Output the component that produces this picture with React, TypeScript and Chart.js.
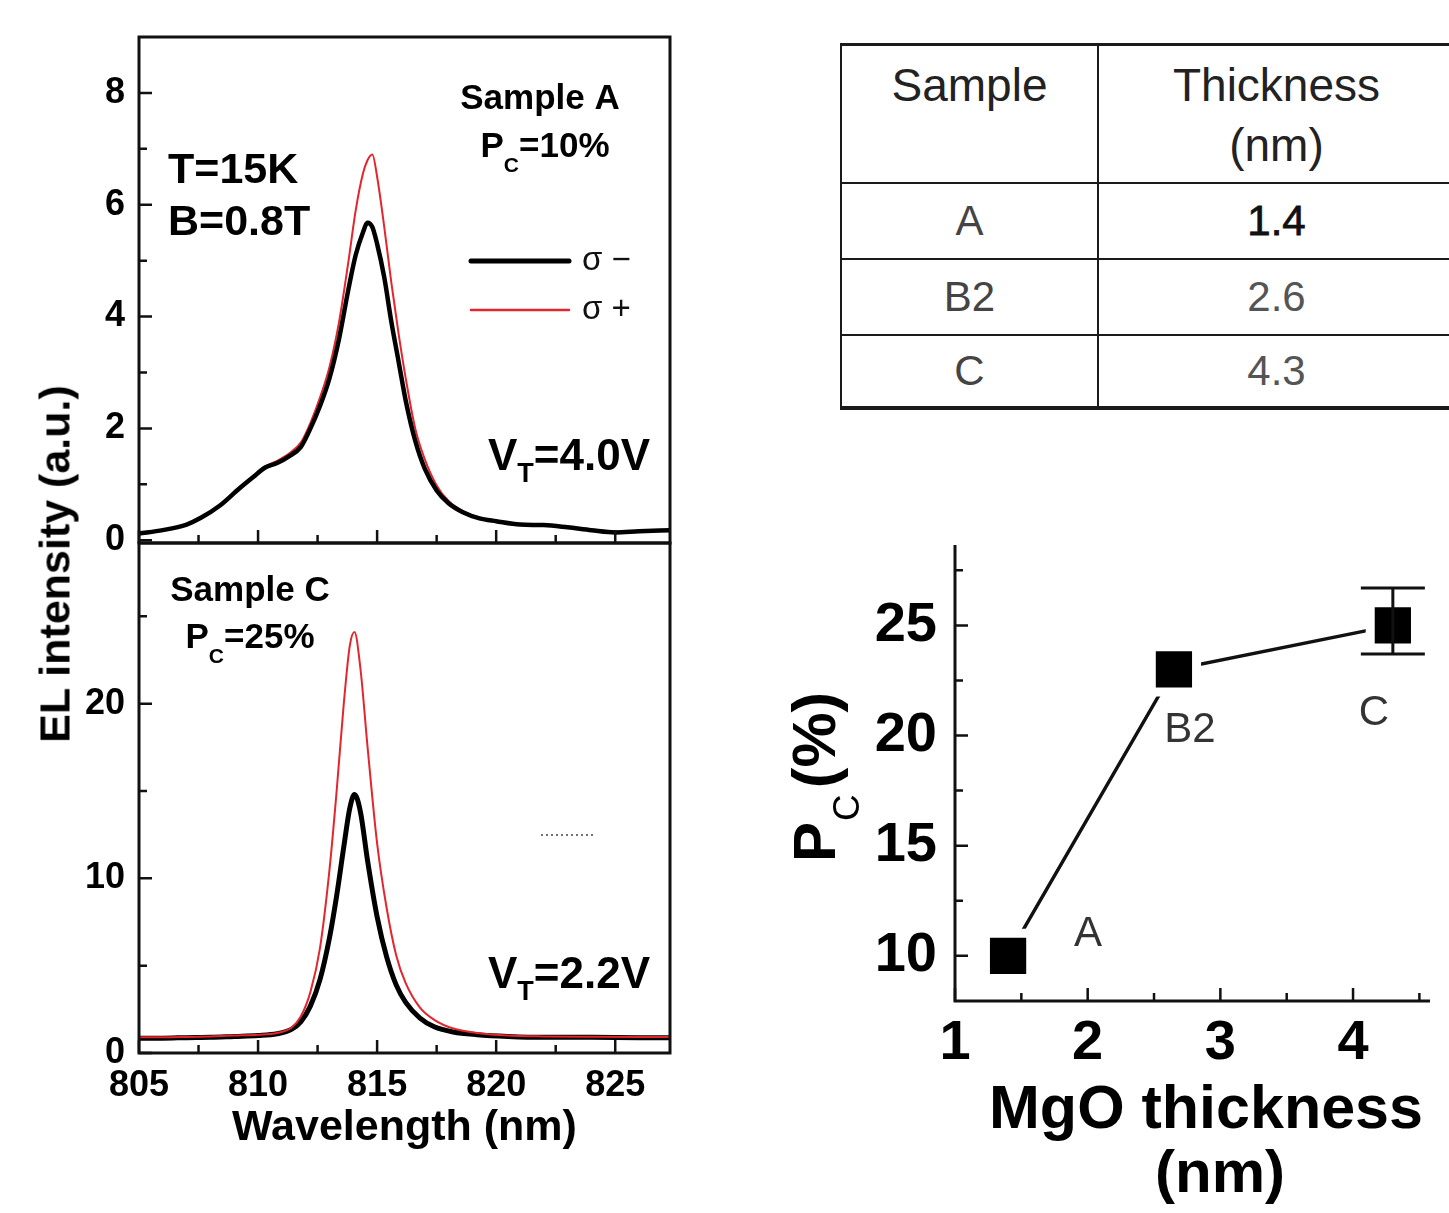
import React, { useEffect, useRef } from 'react';
import { Chart, registerables } from 'chart.js';

Chart.register(...registerables);

const FONT = '"Liberation Sans", Arial, Helvetica, sans-serif';

// ---------- Sample A spectra (top panel) ----------
const wavelengthA = [805, 806, 807, 807.6, 808.4, 809.2, 809.8, 810.3, 810.8, 811.3, 811.8, 812.2, 812.6, 813.0, 813.4, 813.8, 814.1, 814.4, 814.6, 814.8, 815.0, 815.3, 815.6, 815.9, 816.2, 816.6, 817.0, 817.5, 818.0, 818.6, 819.3, 820.0, 821.0, 822.0, 823.0, 824.0, 825.0, 826.0, 827.3];
const sigmaMinusA = [0.12, 0.18, 0.28, 0.4, 0.62, 0.92, 1.13, 1.3, 1.38, 1.5, 1.67, 2.0, 2.4, 2.9, 3.6, 4.5, 5.1, 5.5, 5.68, 5.6, 5.3, 4.7, 3.9, 3.2, 2.5, 1.78, 1.28, 0.89, 0.66, 0.5, 0.39, 0.34, 0.28, 0.27, 0.23, 0.18, 0.14, 0.16, 0.18];
const sigmaPlusA = [0.12, 0.18, 0.28, 0.4, 0.62, 0.92, 1.15, 1.32, 1.42, 1.55, 1.75, 2.1, 2.55, 3.1, 3.9, 5.0, 5.9, 6.55, 6.8, 6.9, 6.5, 5.6, 4.6, 3.7, 2.9, 2.0, 1.45, 0.98, 0.7, 0.52, 0.4, 0.34, 0.28, 0.27, 0.23, 0.18, 0.14, 0.16, 0.18];

// ---------- Sample C spectra (bottom panel) ----------
const wavelengthC = [805, 806, 807, 808, 809, 810, 810.8, 811.4, 811.8, 812.2, 812.6, 813.0, 813.3, 813.6, 813.85, 814.05, 814.3, 814.6, 815.0, 815.4, 815.8, 816.2, 816.8, 817.4, 818.2, 819.2, 820.5, 822, 824, 826, 827.3];
const sigmaMinusC = [0.85, 0.85, 0.88, 0.9, 0.95, 1.0, 1.1, 1.35, 1.8, 2.7, 4.2, 6.6, 9.0, 11.8, 14.0, 14.8, 13.8, 11.0, 7.8, 5.5, 3.9, 2.9, 2.0, 1.5, 1.2, 1.05, 0.95, 0.9, 0.9, 0.88, 0.88];
const sigmaPlusC = [0.9, 0.9, 0.92, 0.95, 1.0, 1.05, 1.15, 1.45, 2.1, 3.5, 6.0, 10.5, 15.0, 20.0, 23.3, 24.1, 22.0, 17.5, 12.0, 8.3, 5.6, 4.0, 2.6, 1.9, 1.4, 1.15, 1.0, 0.95, 0.93, 0.92, 0.92];

const wlTicks = [805, 810, 815, 820, 825];
const wlMinorTicks = [807.5, 812.5, 817.5, 822.5];
const elTicksA = [0, 2, 4, 6, 8];
const elMinorA = [1, 3, 5, 7];
const elTicksC = [0, 10, 20];
const elMinorC = [5, 15, 25];

// ---------- table + Pc vs thickness ----------
const sampleNames = ['A', 'B2', 'C'];
const sampleThickness = ['1.4', '2.6', '4.3'];
const mgoThickness = [1.4, 2.65, 4.3];
const pcPercent = [10, 23, 25];
const pcErrLow = [null, null, 23.7];
const pcErrHigh = [null, null, 26.7];
const mgoTicks = [1, 2, 3, 4];
const mgoMinor = [1.5, 2.5, 3.5, 4.5];
const pcTicks = [10, 15, 20, 25];
const pcMinor = [12.5, 17.5, 22.5, 27.5];

const BLACK = '#000000';
const RED = '#e3262d';
const AXIS = '#111111';

type Seg = { t: string; sub?: boolean };
type Note = { segs: Seg[]; x: number; y: number; size: number; subSize?: number; subDy?: number; bold?: boolean; align?: string; color?: string };

function drawNote(ctx: CanvasRenderingContext2D, n: Note) {
  const w = n.bold === false ? 'normal' : 'bold';
  const main = `${w} ${n.size}px ${FONT}`;
  const sub = `${w} ${n.subSize ?? Math.round(n.size * 0.6)}px ${FONT}`;
  const widths = n.segs.map((s) => {
    ctx.font = s.sub ? sub : main;
    return ctx.measureText(s.t).width;
  });
  const total = widths.reduce((a, b) => a + b, 0);
  let cx = n.align === 'center' ? n.x - total / 2 : n.align === 'right' ? n.x - total : n.x;
  ctx.fillStyle = n.color ?? BLACK;
  ctx.textBaseline = 'alphabetic';
  ctx.textAlign = 'left';
  n.segs.forEach((s, i) => {
    ctx.font = s.sub ? sub : main;
    ctx.fillText(s.t, cx, s.sub ? n.y + (n.subDy ?? n.size * 0.35) : n.y);
    cx += widths[i];
  });
}

function axesPlugin(cfg: any) {
  return {
    id: 'axesDraw' + cfg.key,
    afterDatasetsDraw(chart: any) {
      const { ctx, chartArea: a, scales } = chart;
      const xs = scales.x;
      const ys = scales.y;
      ctx.save();
      ctx.strokeStyle = AXIS;
      ctx.lineWidth = cfg.lw;
      ctx.beginPath();
      if (cfg.box) {
        ctx.rect(a.left, a.top, a.right - a.left, a.bottom - a.top);
      } else {
        ctx.moveTo(a.left, a.top);
        ctx.lineTo(a.left, a.bottom);
        ctx.lineTo(a.right, a.bottom);
      }
      ctx.stroke();
      ctx.lineWidth = 2.5;
      ctx.beginPath();
      const yt = (vals: number[], len: number) => vals.forEach((v) => {
        const p = ys.getPixelForValue(v);
        if (p < a.top - 1 || p > a.bottom + 1) return;
        ctx.moveTo(a.left, p);
        ctx.lineTo(a.left + len, p);
      });
      const xt = (vals: number[], len: number) => vals.forEach((v) => {
        const p = xs.getPixelForValue(v);
        if (p < a.left - 1 || p > a.right + 1) return;
        ctx.moveTo(p, a.bottom);
        ctx.lineTo(p, a.bottom - len);
      });
      yt(cfg.yMajor, 13);
      yt(cfg.yMinor, 8);
      xt(cfg.xMajor, 13);
      xt(cfg.xMinor, 8);
      ctx.stroke();
      ctx.restore();
    },
  };
}

function notesPlugin(key: string, notes: Note[], extra?: (ctx: CanvasRenderingContext2D, chart: any) => void) {
  return {
    id: 'notes' + key,
    afterDraw(chart: any) {
      const ctx = chart.ctx;
      ctx.save();
      notes.forEach((n) => drawNote(ctx, n));
      if (extra) extra(ctx, chart);
      ctx.restore();
    },
  };
}

const legendPlugin = {
  id: 'customLegend',
  afterDraw(chart: any) {
    const ctx = chart.ctx;
    const rows = [
      { ds: chart.data.datasets[0], y: 261 },
      { ds: chart.data.datasets[1], y: 310 },
    ];
    ctx.save();
    rows.forEach((r) => {
      ctx.strokeStyle = r.ds.borderColor;
      ctx.lineWidth = r.ds.borderWidth + 0.5;
      ctx.lineCap = 'round';
      ctx.beginPath();
      ctx.moveTo(471, r.y);
      ctx.lineTo(569, r.y);
      ctx.stroke();
      ctx.fillStyle = '#111';
      ctx.font = `normal 33px ${FONT}`;
      ctx.textAlign = 'left';
      ctx.textBaseline = 'alphabetic';
      ctx.fillText(r.ds.label, 582, r.y + 9);
    });
    ctx.restore();
  },
};

function spectrumSeries(wl: number[], vals: number[]) {
  return wl.map((w, i) => ({ x: w, y: vals[i] }));
}

const tickFont = { family: FONT, size: 36, weight: 'bold' as const };

const fixY = (width: number) => (s: any) => {
  s.width = width;
  s.paddingTop = 0;
  s.paddingBottom = 0;
};
const fixX = (height: number) => (s: any) => {
  s.height = height;
  s.paddingLeft = 0;
  s.paddingRight = 0;
};

function topConfig(): any {
  return {
    type: 'line',
    data: {
      datasets: [
        { label: 'σ −', data: spectrumSeries(wavelengthA, sigmaMinusA), borderColor: BLACK, borderWidth: 4.5, pointRadius: 0, cubicInterpolationMode: 'monotone', fill: false },
        { label: 'σ +', data: spectrumSeries(wavelengthA, sigmaPlusA), borderColor: RED, borderWidth: 2, pointRadius: 0, cubicInterpolationMode: 'monotone', fill: false },
      ],
    },
    options: {
      responsive: false,
      animation: false,
      devicePixelRatio: 1,
      layout: { autoPadding: false, padding: { left: 0, top: 37, right: 30, bottom: 17 } },
      plugins: { legend: { display: false }, tooltip: { enabled: false } },
      scales: {
        x: { type: 'linear', display: false, min: 805, max: 827.3 },
        y: {
          type: 'linear', min: -0.05, max: 9,
          grid: { display: false, drawTicks: false }, border: { display: false },
          afterBuildTicks: (s: any) => { s.ticks = elTicksA.map((v) => ({ value: v })); },
          afterFit: fixY(139),
          ticks: { padding: 14, color: BLACK, font: tickFont },
        },
      },
    },
    plugins: [
      axesPlugin({ key: 'top', box: true, lw: 3, xMajor: wlTicks, xMinor: wlMinorTicks, yMajor: elTicksA, yMinor: elMinorA }),
      notesPlugin('top', [
        { segs: [{ t: 'T=15K' }], x: 168, y: 183, size: 43 },
        { segs: [{ t: 'B=0.8T' }], x: 168, y: 235, size: 43 },
        { segs: [{ t: 'Sample A' }], x: 540, y: 109, size: 35, align: 'center' },
        { segs: [{ t: 'P' }, { t: 'C', sub: true }, { t: '=10%' }], x: 545, y: 157, size: 35, subSize: 21, subDy: 15, align: 'center' },
        { segs: [{ t: 'V' }, { t: 'T', sub: true }, { t: '=4.0V' }], x: 650, y: 470, size: 44, subSize: 27, subDy: 12, align: 'right' },
      ]),
      legendPlugin,
    ],
  };
}

function bottomConfig(): any {
  return {
    type: 'line',
    data: {
      datasets: [
        { label: 'σ +', data: spectrumSeries(wavelengthC, sigmaPlusC), borderColor: RED, borderWidth: 2, pointRadius: 0, cubicInterpolationMode: 'monotone', fill: false },
        { label: 'σ −', data: spectrumSeries(wavelengthC, sigmaMinusC), borderColor: BLACK, borderWidth: 5, pointRadius: 0, cubicInterpolationMode: 'monotone', fill: false },
      ],
    },
    options: {
      responsive: false,
      animation: false,
      devicePixelRatio: 1,
      layout: { autoPadding: false, padding: { left: 0, top: 23, right: 30, bottom: 0 } },
      plugins: { legend: { display: false }, tooltip: { enabled: false } },
      scales: {
        x: {
          type: 'linear', min: 805, max: 827.3,
          grid: { display: false, drawTicks: false }, border: { display: false },
          afterBuildTicks: (s: any) => { s.ticks = wlTicks.map((v) => ({ value: v })); },
          afterFit: fixX(117),
          ticks: { padding: 11, color: BLACK, font: tickFont, autoSkip: false, maxRotation: 0 },
          title: { display: true, text: 'Wavelength (nm)', color: BLACK, font: { family: FONT, size: 43, weight: 'bold' }, padding: { top: 0, bottom: 16 } },
        },
        y: {
          type: 'linear', min: 0, max: 29.2,
          grid: { display: false, drawTicks: false }, border: { display: false },
          afterBuildTicks: (s: any) => { s.ticks = elTicksC.map((v) => ({ value: v })); },
          afterFit: fixY(139),
          ticks: { padding: 14, color: BLACK, font: tickFont },
        },
      },
    },
    plugins: [
      axesPlugin({ key: 'bot', box: true, lw: 3, xMajor: wlTicks, xMinor: wlMinorTicks, yMajor: elTicksC, yMinor: elMinorC }),
      notesPlugin('bot', [
        { segs: [{ t: 'Sample C' }], x: 250, y: 81, size: 35, align: 'center' },
        { segs: [{ t: 'P' }, { t: 'C', sub: true }, { t: '=25%' }], x: 250, y: 128, size: 35, subSize: 21, subDy: 15, align: 'center' },
        { segs: [{ t: 'V' }, { t: 'T', sub: true }, { t: '=2.2V' }], x: 650, y: 468, size: 44, subSize: 27, subDy: 12, align: 'right' },
      ], (ctx) => {
        ctx.strokeStyle = '#444';
        ctx.lineWidth = 1.5;
        ctx.setLineDash([2, 3]);
        ctx.beginPath();
        ctx.moveTo(541, 315);
        ctx.lineTo(594, 315);
        ctx.stroke();
        ctx.setLineDash([]);
      }),
    ],
  };
}

const errorBarPlugin = {
  id: 'errorBars',
  afterDatasetsDraw(chart: any) {
    const { ctx, scales } = chart;
    ctx.save();
    ctx.strokeStyle = '#111';
    ctx.lineWidth = 3;
    mgoThickness.forEach((t, i) => {
      const lo = pcErrLow[i];
      const hi = pcErrHigh[i];
      if (lo == null || hi == null) return;
      const px = scales.x.getPixelForValue(t);
      const pl = scales.y.getPixelForValue(lo);
      const ph = scales.y.getPixelForValue(hi);
      ctx.beginPath();
      ctx.moveTo(px, pl);
      ctx.lineTo(px, ph);
      ctx.moveTo(px - 32, pl);
      ctx.lineTo(px + 32, pl);
      ctx.moveTo(px - 32, ph);
      ctx.lineTo(px + 32, ph);
      ctx.stroke();
    });
    ctx.restore();
  },
};

const labelOffsets = [[80, -21], [16, 61], [-19, 88]];

function pcConfig(): any {
  return {
    type: 'line',
    data: {
      datasets: [
        {
          label: 'Pc',
          data: mgoThickness.map((t, i) => ({ x: t, y: pcPercent[i] })),
          borderColor: '#111', borderWidth: 3.5, tension: 0,
          pointStyle: 'rect', pointRadius: 32, pointBackgroundColor: '#000', pointBorderColor: '#fff', pointBorderWidth: 9,
          clip: false,
        },
      ],
    },
    options: {
      responsive: false,
      animation: false,
      devicePixelRatio: 1,
      layout: { autoPadding: false, padding: { left: 0, top: 25, right: 19, bottom: 0 } },
      plugins: { legend: { display: false }, tooltip: { enabled: false } },
      scales: {
        x: {
          type: 'linear', min: 1, max: 4.58,
          grid: { display: false, drawTicks: false }, border: { display: false },
          afterBuildTicks: (s: any) => { s.ticks = mgoTicks.map((v) => ({ value: v })); },
          afterFit: fixX(212),
          ticks: { padding: 9, color: BLACK, font: { family: FONT, size: 56, weight: 'bold' }, autoSkip: false, maxRotation: 0 },
        },
        y: {
          type: 'linear', min: 7.95, max: 28.65,
          grid: { display: false, drawTicks: false }, border: { display: false },
          afterBuildTicks: (s: any) => { s.ticks = pcTicks.map((v) => ({ value: v })); },
          afterFit: fixY(185),
          ticks: { padding: 18, color: BLACK, font: { family: FONT, size: 56, weight: 'bold' } },
        },
      },
    },
    plugins: [
      axesPlugin({ key: 'pc', box: false, lw: 3, xMajor: mgoTicks, xMinor: mgoMinor, yMajor: pcTicks, yMinor: pcMinor }),
      errorBarPlugin,
      notesPlugin('pc', [
        { segs: [{ t: 'MgO thickness' }], x: 436, y: 608, size: 61, align: 'center' },
        { segs: [{ t: '(nm)' }], x: 450, y: 672, size: 60, align: 'center' },
      ], (ctx, chart) => {
        const xs = chart.scales.x;
        const ys = chart.scales.y;
        ctx.fillStyle = '#333';
        ctx.font = `normal 42px ${FONT}`;
        ctx.textAlign = 'center';
        ctx.textBaseline = 'middle';
        sampleNames.forEach((n, i) => {
          const px = xs.getPixelForValue(mgoThickness[i]) + labelOffsets[i][0];
          const py = ys.getPixelForValue(pcPercent[i]) + labelOffsets[i][1];
          ctx.fillText(n, px, py);
        });
        // rotated y-axis title P_C (%)
        ctx.save();
        ctx.translate(65, 342);
        ctx.rotate(-Math.PI / 2);
        ctx.textAlign = 'left';
        ctx.textBaseline = 'alphabetic';
        ctx.fillStyle = BLACK;
        ctx.font = `bold 60px ${FONT}`;
        ctx.fillText('P', 0, 0);
        const pw = ctx.measureText('P').width;
        ctx.font = `normal 37px ${FONT}`;
        ctx.fillText('C', pw + 1, 24);
        const cw = ctx.measureText('C').width;
        ctx.font = `bold 62px ${FONT}`;
        ctx.fillText('(%)', pw + cw + 7, 0);
        ctx.restore();
      }),
    ],
  };
}

export default function App() {
  const topRef = useRef<HTMLCanvasElement>(null);
  const botRef = useRef<HTMLCanvasElement>(null);
  const pcRef = useRef<HTMLCanvasElement>(null);

  useEffect(() => {
    document.body.style.margin = '0';
    const charts = [
      new Chart(topRef.current as HTMLCanvasElement, topConfig()),
      new Chart(botRef.current as HTMLCanvasElement, bottomConfig()),
      new Chart(pcRef.current as HTMLCanvasElement, pcConfig()),
    ];
    return () => charts.forEach((c) => c.destroy());
  }, []);

  const line = '2px solid #1a1a1a';
  const abs = (l: number, t: number, w: number, h: number): React.CSSProperties => ({ position: 'absolute', left: l, top: t, width: w, height: h });

  return (
    <div style={{ position: 'relative', width: 1449, height: 1213, overflow: 'hidden', background: '#fff', fontFamily: FONT }}>
      <canvas ref={topRef} width={700} height={560} style={abs(0, 0, 700, 560)} />
      <canvas ref={botRef} width={700} height={650} style={abs(0, 520, 700, 650)} />
      <canvas ref={pcRef} width={679} height={693} style={abs(770, 520, 679, 693)} />
      <div style={{ position: 'absolute', left: 55, top: 564, transform: 'translate(-50%, -50%) rotate(-90deg)', font: `bold 43px ${FONT}`, lineHeight: 1, whiteSpace: 'nowrap', color: BLACK }}>
        EL intensity (a.u.)
      </div>
      <div style={{ position: 'absolute', left: 840, top: 43, width: 612, borderTop: '3px solid #1a1a1a', borderBottom: '4px solid #1a1a1a', borderLeft: line }}>
        <div style={{ display: 'flex', height: 136, borderBottom: line }}>
          <div style={{ width: 255, borderRight: line, textAlign: 'center', fontSize: 46, lineHeight: '60px', paddingTop: 9, color: '#222' }}>Sample</div>
          <div style={{ flex: 1, textAlign: 'center', fontSize: 46, lineHeight: '60px', paddingTop: 9, color: '#222' }}>Thickness<br />(nm)</div>
        </div>
        {sampleNames.map((s, i) => {
          const h = i === 2 ? 70 : 74;
          return (
            <div key={s} style={{ display: 'flex', height: h, borderBottom: i < 2 ? line : 'none' }}>
              <div style={{ width: 255, borderRight: line, textAlign: 'center', fontSize: 42, lineHeight: `${h}px`, color: '#444' }}>{s}</div>
              <div style={{ flex: 1, textAlign: 'center', fontSize: 42, lineHeight: `${h}px`, color: i === 0 ? '#111' : '#555', WebkitTextStroke: i === 0 ? '0.8px #111' : undefined }}>{sampleThickness[i]}</div>
            </div>
          );
        })}
      </div>
    </div>
  );
}
